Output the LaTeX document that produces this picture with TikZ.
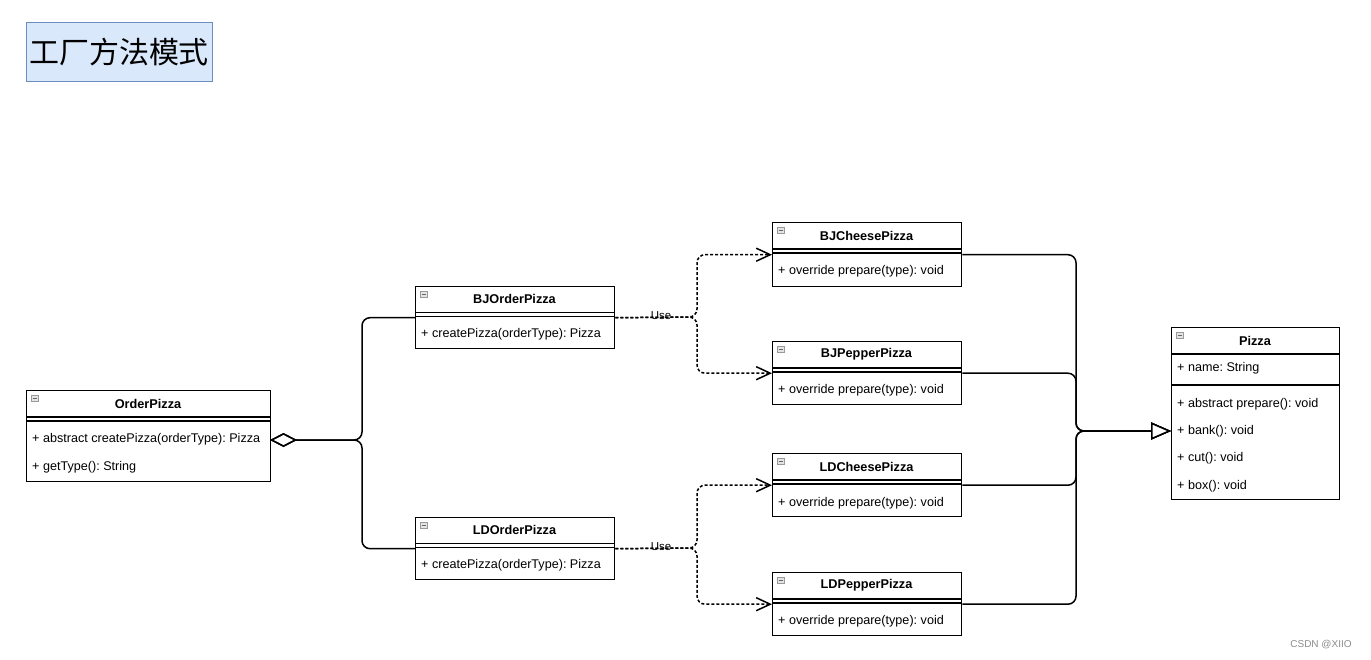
\documentclass[tikz,border=0pt]{standalone}
\usepackage{fontspec}
\setmainfont{Liberation Sans}
\newfontfamily\cjk{Noto Sans CJK SC}
\usetikzlibrary{arrows.meta}
\frenchspacing
\definecolor{tfill}{HTML}{DAE8FC}
\definecolor{tborder}{HTML}{6C8EBF}
\definecolor{icfill}{HTML}{E4E4E4}
\definecolor{icdraw}{HTML}{9A9A9A}
\newcommand\umlicon[2]{%
  \draw[icdraw, fill=icfill, line width=0.6pt] (#1+5,#2+5) rectangle (#1+12.5,#2+11.5);
  \draw[black!60, line width=0.9pt] (#1+6.5,#2+8.25) -- (#1+11,#2+8.25);}
\begin{document}
\frenchspacing
\begin{tikzpicture}[x=1pt,y=-1pt,
  cls/.style={draw=black, line width=1.4pt, fill=white, inner sep=0pt, rectangle, anchor=north west},
  ttl/.style={font=\bfseries\fontsize{12.7}{14}\selectfont, inner sep=0pt},
  row/.style={anchor=west, font=\fontsize{12.6}{14}\selectfont, inner sep=0pt},
  sep/.style={line width=1.3pt},
  agg/.style={line width=1.5pt, rounded corners=8pt, {Diamond[open, length=27pt, width=14pt, line width=1.5pt]}-},
  use/.style={line width=1.5pt, dash pattern=on 3pt off 2pt, rounded corners=8pt, -{Straight Barb[length=14pt, width=13pt, line width=1.5pt]}},
  gen/.style={line width=1.5pt, rounded corners=8pt, -{Triangle[open, length=20pt, width=17pt, line width=1.5pt, fill=white]}},
  lbl/.style={font=\fontsize{11.5}{13}\selectfont, inner sep=0pt}
]
\useasboundingbox (0,0) rectangle (1371,659);

% title
\node[draw=tborder, fill=tfill, line width=1pt, minimum width=186pt, minimum height=59pt, anchor=north west, inner sep=0pt] (title) at (26,22) {};
\node[font=\cjk\fontsize{30}{32}\selectfont, inner sep=0pt] (titletext) at (119,52) {工厂方法模式};

% OrderPizza
\node[cls, minimum width=244pt, minimum height=91pt] (op) at (26,390) {};
\umlicon{26}{390}
\node[ttl] (opt) at (148,404) {OrderPizza};
\draw[sep] (26,417) -- (270,417);
\draw[sep] (26,421) -- (270,421);
\node[row] (op1) at (32,439) {+ abstract createPizza(orderType): Pizza};
\node[row] (op2) at (32,467) {+ getType(): String};

% BJOrderPizza
\node[cls, minimum width=199pt, minimum height=62pt] (bjo) at (415,286) {};
\umlicon{415}{286}
\node[ttl] (bjot) at (514.5,299) {BJOrderPizza};
\draw[sep] (415,312.5) -- (614,312.5);
\draw[sep] (415,316.5) -- (614,316.5);
\node[row] (bjo1) at (421,334) {+ createPizza(orderType): Pizza};

% LDOrderPizza
\node[cls, minimum width=199pt, minimum height=62pt] (ldo) at (415,517) {};
\umlicon{415}{517}
\node[ttl] (ldot) at (514.5,530) {LDOrderPizza};
\draw[sep] (415,543.5) -- (614,543.5);
\draw[sep] (415,547.5) -- (614,547.5);
\node[row] (ldo1) at (421,565) {+ createPizza(orderType): Pizza};

% BJCheesePizza
\node[cls, minimum width=189pt, minimum height=64pt] (bjc) at (772,222) {};
\umlicon{772}{222}
\node[ttl] (bjct) at (866.5,236) {BJCheesePizza};
\draw[sep] (772,249) -- (961,249);
\draw[sep] (772,253) -- (961,253);
\node[row] (bjc1) at (778,271) {+ override prepare(type): void};

% BJPepperPizza
\node[cls, minimum width=189pt, minimum height=63pt] (bjp) at (772,341) {};
\umlicon{772}{341}
\node[ttl] (bjpt) at (866.5,354) {BJPepperPizza};
\draw[sep] (772,368) -- (961,368);
\draw[sep] (772,372) -- (961,372);
\node[row] (bjp1) at (778,390) {+ override prepare(type): void};

% LDCheesePizza
\node[cls, minimum width=189pt, minimum height=63pt] (ldc) at (772,453) {};
\umlicon{772}{453}
\node[ttl] (ldct) at (866.5,467) {LDCheesePizza};
\draw[sep] (772,480) -- (961,480);
\draw[sep] (772,484) -- (961,484);
\node[row] (ldc1) at (778,503) {+ override prepare(type): void};

% LDPepperPizza
\node[cls, minimum width=189pt, minimum height=63pt] (ldp) at (772,572) {};
\umlicon{772}{572}
\node[ttl] (ldpt) at (866.5,585) {LDPepperPizza};
\draw[sep] (772,599) -- (961,599);
\draw[sep] (772,603) -- (961,603);
\node[row] (ldp1) at (778,621) {+ override prepare(type): void};

% Pizza
\node[cls, minimum width=168pt, minimum height=172pt] (pz) at (1171,327) {};
\umlicon{1171}{327}
\node[ttl] (pzt) at (1255,341) {Pizza};
\draw[sep] (1171,354) -- (1339,354);
\node[row] (pz1) at (1177,368) {+ name: String};
\draw[sep] (1171,385) -- (1339,385);
\node[row] (pz2) at (1177,404) {+ abstract prepare(): void};
\node[row] (pz3) at (1177,431) {+ bank(): void};
\node[row] (pz4) at (1177,458) {+ cut(): void};
\node[row] (pz5) at (1177,486) {+ box(): void};

% junction coordinates
\coordinate (aggJ) at (362,440);
\coordinate (opOut) at (270,440);
\coordinate (useJ1) at (697,317);
\coordinate (useJ2) at (697,548);
\coordinate (genJ) at (1076,431);
\coordinate (pzIn) at (1171,431);

% aggregation
\draw[agg] (opOut) -- (aggJ) |- (bjo.west);
\draw[agg] (opOut) -- (aggJ) |- (ldo.west);

% use dependencies
\draw[use] (bjo.east) -- (useJ1) |- (bjc.west);
\draw[use] (bjo.east) -- (useJ1) |- (bjp.west);
\draw[use] (ldo.east) -- (useJ2) |- (ldc.west);
\draw[use] (ldo.east) -- (useJ2) |- (ldp.west);
\node[lbl] (use1) at (661,316) {Use};
\node[lbl] (use2) at (661,547) {Use};

% generalization
\draw[gen] (bjc.east) -| (genJ) -- (pzIn);
\draw[gen] (bjp.east) -| (genJ) -- (pzIn);
\draw[gen] (ldc.east) -| (genJ) -- (pzIn);
\draw[gen] (ldp.east) -| (genJ) -- (pzIn);

% watermark
\node[font=\fontsize{10}{12}\selectfont, text=black!45, inner sep=0pt] (wm) at (1321,645) {CSDN @XIIO};
\end{tikzpicture}
\end{document}
